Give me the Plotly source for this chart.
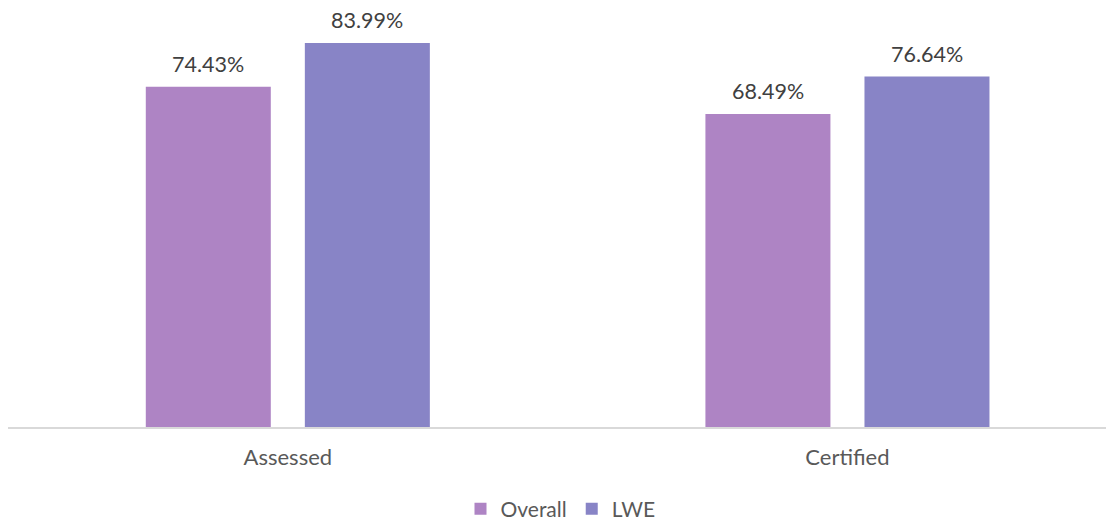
import plotly.graph_objects as go

categories = ["Assessed", "Certified"]
overall = [74.43, 68.49]
lwe = [83.99, 76.64]
series_names = ["Overall", "LWE"]
colors = ["#AE84C4", "#8884C6"]

FONT = "Lato, 'Open Sans', sans-serif"
BARGAP = 0.4316
GROUPGAP = 0.214

fig = go.Figure()
for name, vals, col in zip(series_names, [overall, lwe], colors):
    fig.add_trace(go.Bar(
        x=categories, y=vals, name=name,
        marker=dict(color=col, line=dict(width=0)),
        cliponaxis=False,
    ))

# value labels above bars
slot = (1 - BARGAP) / 2
for si, vals in enumerate([overall, lwe]):
    off = (si - 0.5) * slot
    for ci, v in enumerate(vals):
        fig.add_annotation(
            x=ci + off, y=v, xref="x", yref="y",
            text=f"{v:.2f}%", showarrow=False,
            yanchor="middle", yshift=23, borderpad=0,
            font=dict(family=FONT, size=21.5, color="#404040"),
        )

fig.update_layout(
    width=1106, height=514,
    margin=dict(l=0, r=1, t=8, b=95, autoexpand=False),
    paper_bgcolor="white", plot_bgcolor="white",
    barmode="group", bargap=BARGAP, bargroupgap=GROUPGAP,
    showlegend=True,
    legend=dict(orientation="h", x=0.5, xanchor="center", y=-0.2, yanchor="middle",
                font=dict(family=FONT, size=21, color="#595959"),
                itemwidth=30, traceorder="normal"),
    font=dict(family=FONT),
)
fig.update_xaxes(
    range=[-0.5, 1.4745],
    showline=True, linecolor="#D9D9D9", linewidth=1.5,
    showgrid=False, zeroline=False,
    ticks="", ticklabelstandoff=10,
    tickfont=dict(family=FONT, size=22, color="#595959"),
)
fig.update_yaxes(range=[0, 89.9], visible=False, showgrid=False, zeroline=False)

fig.write_html("out.html")
